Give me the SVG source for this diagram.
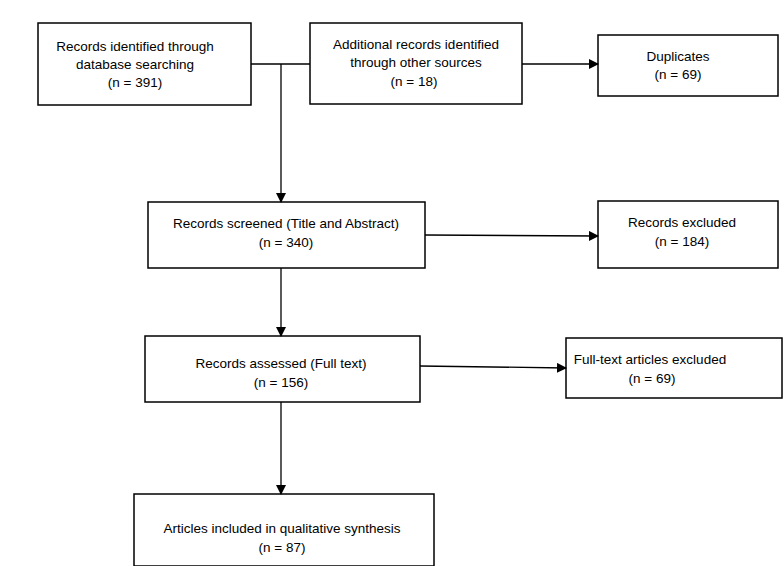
<svg xmlns="http://www.w3.org/2000/svg" width="784" height="566" viewBox="0 0 784 566">
<style>
rect{fill:#fff;stroke:#000;stroke-width:1.5}
text{font-family:"Liberation Sans",Arial,sans-serif;font-size:13.5px;fill:#000;text-anchor:middle}
.c line,.c path{stroke:#000;stroke-width:1.3;fill:none}
</style>
<defs><marker id="a" markerWidth="10" markerHeight="10" refX="9" refY="5" orient="auto" markerUnits="userSpaceOnUse"><path d="M0,0 L10,5 L0,10 z" fill="#000"/></marker></defs>
<rect x="0" y="0" width="784" height="566" style="stroke:none"/>
<g id="n1"><rect x="38" y="23" width="213" height="82"/><text x="135" y="51">Records identified through</text><text x="135" y="69">database searching</text><text x="135" y="87">(n = 391)</text></g>
<g id="n2"><rect x="310" y="23" width="212" height="81"/><text x="416" y="49">Additional records identified</text><text x="416" y="67">through other sources</text><text x="414" y="86">(n = 18)</text></g>
<g id="n3"><rect x="598" y="35" width="180" height="61"/><text x="678" y="61">Duplicates</text><text x="678" y="79">(n = 69)</text></g>
<g id="n4"><rect x="148" y="202" width="277" height="66"/><text x="286" y="228">Records screened (Title and Abstract)</text><text x="286" y="247">(n = 340)</text></g>
<g id="n5"><rect x="598" y="201" width="180" height="67"/><text x="682" y="227">Records excluded</text><text x="682" y="246">(n = 184)</text></g>
<g id="n6"><rect x="145" y="336" width="275" height="66"/><text x="281" y="368">Records assessed (Full text)</text><text x="281" y="387">(n = 156)</text></g>
<g id="n7"><rect x="566" y="338" width="216" height="60"/><text x="650" y="364">Full-text articles excluded</text><text x="652" y="383">(n = 69)</text></g>
<g id="n8"><rect x="134" y="494" width="300" height="72"/><text x="282" y="533">Articles included in qualitative synthesis</text><text x="282" y="552">(n = 87)</text></g>
<g class="c">
<line x1="251" y1="64" x2="310" y2="64"/>
<line x1="281" y1="64" x2="281" y2="202" marker-end="url(#a)"/>
<line x1="522" y1="64" x2="598" y2="64" marker-end="url(#a)"/>
<line x1="425" y1="235" x2="598" y2="236" marker-end="url(#a)"/>
<line x1="281" y1="268" x2="281" y2="336" marker-end="url(#a)"/>
<line x1="420" y1="366" x2="566" y2="368" marker-end="url(#a)"/>
<line x1="281" y1="402" x2="281" y2="494" marker-end="url(#a)"/>
</g>
</svg>
